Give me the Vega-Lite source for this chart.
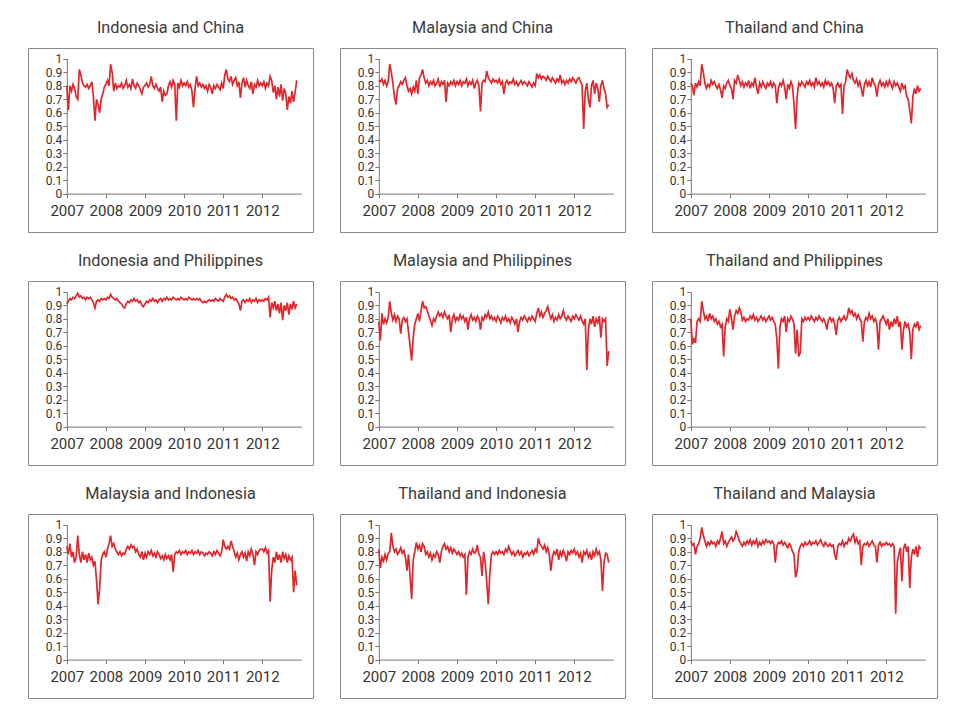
{
"$schema": "https://vega.github.io/schema/vega-lite/v6.json",
"padding": {"left": 27, "top": 19, "right": 5, "bottom": 5},
"background": "white",
"data": {"values": [
{"t":2007,"IC":0.80,"MC":0.84,"TC":0.82,"IP":0.91,"MP":0.78,"TP":0.80,"MI":0.84,"TI":0.82,"TM":0.88},
{"t":2007.04,"IC":0.62,"MC":0.83,"TC":0.80,"IP":0.93,"MP":0.64,"TP":0.61,"MI":0.78,"TI":0.68,"TM":0.85},
{"t":2007.08,"IC":0.80,"MC":0.85,"TC":0.73,"IP":0.95,"MP":0.84,"TP":0.65,"MI":0.86,"TI":0.76,"TM":0.86},
{"t":2007.12,"IC":0.76,"MC":0.81,"TC":0.82,"IP":0.94,"MP":0.76,"TP":0.62,"MI":0.76,"TI":0.73,"TM":0.78},
{"t":2007.16,"IC":0.81,"MC":0.84,"TC":0.79,"IP":0.96,"MP":0.80,"TP":0.78,"MI":0.80,"TI":0.78,"TM":0.84},
{"t":2007.20,"IC":0.78,"MC":0.80,"TC":0.83,"IP":0.95,"MP":0.77,"TP":0.80,"MI":0.72,"TI":0.74,"TM":0.86},
{"t":2007.24,"IC":0.72,"MC":0.83,"TC":0.80,"IP":0.97,"MP":0.81,"TP":0.78,"MI":0.76,"TI":0.79,"TM":0.90},
{"t":2007.28,"IC":0.70,"MC":0.96,"TC":0.96,"IP":0.99,"MP":0.93,"TP":0.93,"MI":0.92,"TI":0.80,"TM":0.98},
{"t":2007.32,"IC":0.92,"MC":0.90,"TC":0.90,"IP":0.96,"MP":0.84,"TP":0.86,"MI":0.78,"TI":0.94,"TM":0.92},
{"t":2007.36,"IC":0.88,"MC":0.82,"TC":0.82,"IP":0.97,"MP":0.79,"TP":0.80,"MI":0.72,"TI":0.84,"TM":0.88},
{"t":2007.40,"IC":0.82,"MC":0.72,"TC":0.78,"IP":0.95,"MP":0.83,"TP":0.82,"MI":0.80,"TI":0.80,"TM":0.84},
{"t":2007.44,"IC":0.80,"MC":0.66,"TC":0.81,"IP":0.96,"MP":0.78,"TP":0.78,"MI":0.74,"TI":0.82,"TM":0.87},
{"t":2007.48,"IC":0.79,"MC":0.78,"TC":0.79,"IP":0.94,"MP":0.82,"TP":0.84,"MI":0.78,"TI":0.78,"TM":0.85},
{"t":2007.52,"IC":0.81,"MC":0.80,"TC":0.84,"IP":0.96,"MP":0.80,"TP":0.80,"MI":0.72,"TI":0.80,"TM":0.88},
{"t":2007.56,"IC":0.78,"MC":0.83,"TC":0.81,"IP":0.95,"MP":0.69,"TP":0.82,"MI":0.79,"TI":0.83,"TM":0.86},
{"t":2007.60,"IC":0.80,"MC":0.81,"TC":0.83,"IP":0.96,"MP":0.79,"TP":0.78,"MI":0.74,"TI":0.79,"TM":0.87},
{"t":2007.64,"IC":0.83,"MC":0.84,"TC":0.80,"IP":0.94,"MP":0.81,"TP":0.80,"MI":0.76,"TI":0.81,"TM":0.84},
{"t":2007.68,"IC":0.72,"MC":0.86,"TC":0.78,"IP":0.92,"MP":0.78,"TP":0.76,"MI":0.70,"TI":0.76,"TM":0.88},
{"t":2007.72,"IC":0.54,"MC":0.80,"TC":0.81,"IP":0.88,"MP":0.80,"TP":0.78,"MI":0.73,"TI":0.66,"TM":0.86},
{"t":2007.76,"IC":0.70,"MC":0.76,"TC":0.77,"IP":0.93,"MP":0.70,"TP":0.74,"MI":0.59,"TI":0.78,"TM":0.90},
{"t":2007.80,"IC":0.66,"MC":0.78,"TC":0.71,"IP":0.94,"MP":0.60,"TP":0.76,"MI":0.41,"TI":0.62,"TM":0.95},
{"t":2007.84,"IC":0.60,"MC":0.74,"TC":0.80,"IP":0.93,"MP":0.49,"TP":0.52,"MI":0.53,"TI":0.45,"TM":0.86},
{"t":2007.88,"IC":0.70,"MC":0.79,"TC":0.78,"IP":0.95,"MP":0.66,"TP":0.74,"MI":0.74,"TI":0.74,"TM":0.88},
{"t":2007.92,"IC":0.74,"MC":0.76,"TC":0.82,"IP":0.94,"MP":0.76,"TP":0.80,"MI":0.78,"TI":0.80,"TM":0.84},
{"t":2007.96,"IC":0.79,"MC":0.84,"TC":0.84,"IP":0.95,"MP":0.80,"TP":0.78,"MI":0.80,"TI":0.87,"TM":0.87},
{"t":2008,"IC":0.81,"MC":0.74,"TC":0.80,"IP":0.94,"MP":0.84,"TP":0.87,"MI":0.76,"TI":0.82,"TM":0.89},
{"t":2008.04,"IC":0.84,"MC":0.86,"TC":0.78,"IP":0.96,"MP":0.78,"TP":0.80,"MI":0.82,"TI":0.85,"TM":0.91},
{"t":2008.08,"IC":0.80,"MC":0.88,"TC":0.70,"IP":0.95,"MP":0.86,"TP":0.72,"MI":0.86,"TI":0.80,"TM":0.88},
{"t":2008.12,"IC":0.96,"MC":0.92,"TC":0.84,"IP":0.98,"MP":0.93,"TP":0.82,"MI":0.92,"TI":0.86,"TM":0.90},
{"t":2008.16,"IC":0.90,"MC":0.86,"TC":0.82,"IP":0.96,"MP":0.88,"TP":0.86,"MI":0.84,"TI":0.84,"TM":0.95},
{"t":2008.20,"IC":0.76,"MC":0.82,"TC":0.88,"IP":0.95,"MP":0.89,"TP":0.84,"MI":0.86,"TI":0.78,"TM":0.92},
{"t":2008.24,"IC":0.82,"MC":0.84,"TC":0.84,"IP":0.94,"MP":0.86,"TP":0.88,"MI":0.82,"TI":0.80,"TM":0.88},
{"t":2008.28,"IC":0.78,"MC":0.80,"TC":0.80,"IP":0.95,"MP":0.82,"TP":0.85,"MI":0.80,"TI":0.76,"TM":0.86},
{"t":2008.32,"IC":0.80,"MC":0.83,"TC":0.83,"IP":0.93,"MP":0.79,"TP":0.79,"MI":0.78,"TI":0.79,"TM":0.84},
{"t":2008.36,"IC":0.79,"MC":0.81,"TC":0.79,"IP":0.92,"MP":0.75,"TP":0.81,"MI":0.80,"TI":0.74,"TM":0.87},
{"t":2008.40,"IC":0.82,"MC":0.84,"TC":0.82,"IP":0.91,"MP":0.80,"TP":0.78,"MI":0.77,"TI":0.78,"TM":0.85},
{"t":2008.44,"IC":0.78,"MC":0.80,"TC":0.80,"IP":0.89,"MP":0.78,"TP":0.80,"MI":0.79,"TI":0.76,"TM":0.88},
{"t":2008.48,"IC":0.80,"MC":0.82,"TC":0.84,"IP":0.88,"MP":0.82,"TP":0.79,"MI":0.78,"TI":0.80,"TM":0.86},
{"t":2008.52,"IC":0.84,"MC":0.85,"TC":0.78,"IP":0.91,"MP":0.85,"TP":0.82,"MI":0.82,"TI":0.78,"TM":0.89},
{"t":2008.56,"IC":0.79,"MC":0.79,"TC":0.82,"IP":0.93,"MP":0.82,"TP":0.80,"MI":0.84,"TI":0.72,"TM":0.85},
{"t":2008.60,"IC":0.81,"MC":0.83,"TC":0.80,"IP":0.92,"MP":0.84,"TP":0.83,"MI":0.82,"TI":0.80,"TM":0.88},
{"t":2008.64,"IC":0.78,"MC":0.81,"TC":0.86,"IP":0.94,"MP":0.81,"TP":0.79,"MI":0.85,"TI":0.84,"TM":0.86},
{"t":2008.68,"IC":0.85,"MC":0.84,"TC":0.79,"IP":0.93,"MP":0.85,"TP":0.81,"MI":0.83,"TI":0.86,"TM":0.89},
{"t":2008.72,"IC":0.80,"MC":0.68,"TC":0.74,"IP":0.95,"MP":0.82,"TP":0.78,"MI":0.84,"TI":0.82,"TM":0.84},
{"t":2008.76,"IC":0.78,"MC":0.82,"TC":0.82,"IP":0.93,"MP":0.80,"TP":0.80,"MI":0.80,"TI":0.84,"TM":0.87},
{"t":2008.80,"IC":0.82,"MC":0.80,"TC":0.79,"IP":0.94,"MP":0.83,"TP":0.82,"MI":0.82,"TI":0.80,"TM":0.85},
{"t":2008.84,"IC":0.80,"MC":0.83,"TC":0.83,"IP":0.92,"MP":0.70,"TP":0.79,"MI":0.78,"TI":0.83,"TM":0.88},
{"t":2008.88,"IC":0.77,"MC":0.81,"TC":0.80,"IP":0.93,"MP":0.80,"TP":0.81,"MI":0.76,"TI":0.79,"TM":0.86},
{"t":2008.92,"IC":0.74,"MC":0.84,"TC":0.78,"IP":0.90,"MP":0.83,"TP":0.78,"MI":0.80,"TI":0.82,"TM":0.89},
{"t":2008.96,"IC":0.79,"MC":0.80,"TC":0.82,"IP":0.89,"MP":0.78,"TP":0.80,"MI":0.74,"TI":0.80,"TM":0.87},
{"t":2009,"IC":0.80,"MC":0.83,"TC":0.80,"IP":0.91,"MP":0.81,"TP":0.82,"MI":0.79,"TI":0.78,"TM":0.88},
{"t":2009.04,"IC":0.82,"MC":0.81,"TC":0.83,"IP":0.93,"MP":0.79,"TP":0.79,"MI":0.76,"TI":0.80,"TM":0.86},
{"t":2009.08,"IC":0.79,"MC":0.84,"TC":0.79,"IP":0.92,"MP":0.83,"TP":0.81,"MI":0.80,"TI":0.77,"TM":0.88},
{"t":2009.12,"IC":0.81,"MC":0.80,"TC":0.82,"IP":0.94,"MP":0.80,"TP":0.78,"MI":0.78,"TI":0.79,"TM":0.86},
{"t":2009.16,"IC":0.87,"MC":0.83,"TC":0.80,"IP":0.93,"MP":0.82,"TP":0.76,"MI":0.81,"TI":0.76,"TM":0.72},
{"t":2009.20,"IC":0.80,"MC":0.82,"TC":0.67,"IP":0.95,"MP":0.78,"TP":0.65,"MI":0.77,"TI":0.78,"TM":0.84},
{"t":2009.24,"IC":0.78,"MC":0.85,"TC":0.78,"IP":0.93,"MP":0.81,"TP":0.43,"MI":0.79,"TI":0.48,"TM":0.87},
{"t":2009.28,"IC":0.81,"MC":0.80,"TC":0.82,"IP":0.94,"MP":0.72,"TP":0.74,"MI":0.76,"TI":0.76,"TM":0.86},
{"t":2009.32,"IC":0.78,"MC":0.83,"TC":0.80,"IP":0.92,"MP":0.80,"TP":0.80,"MI":0.80,"TI":0.80,"TM":0.88},
{"t":2009.36,"IC":0.76,"MC":0.81,"TC":0.84,"IP":0.94,"MP":0.83,"TP":0.78,"MI":0.78,"TI":0.78,"TM":0.85},
{"t":2009.40,"IC":0.79,"MC":0.84,"TC":0.79,"IP":0.95,"MP":0.79,"TP":0.82,"MI":0.75,"TI":0.82,"TM":0.87},
{"t":2009.44,"IC":0.68,"MC":0.78,"TC":0.70,"IP":0.93,"MP":0.81,"TP":0.70,"MI":0.77,"TI":0.79,"TM":0.85},
{"t":2009.48,"IC":0.76,"MC":0.82,"TC":0.81,"IP":0.95,"MP":0.78,"TP":0.80,"MI":0.74,"TI":0.80,"TM":0.83},
{"t":2009.52,"IC":0.73,"MC":0.84,"TC":0.78,"IP":0.94,"MP":0.82,"TP":0.78,"MI":0.78,"TI":0.85,"TM":0.86},
{"t":2009.56,"IC":0.74,"MC":0.80,"TC":0.83,"IP":0.96,"MP":0.80,"TP":0.82,"MI":0.75,"TI":0.78,"TM":0.84},
{"t":2009.60,"IC":0.80,"MC":0.61,"TC":0.80,"IP":0.94,"MP":0.72,"TP":0.80,"MI":0.77,"TI":0.76,"TM":0.80},
{"t":2009.64,"IC":0.83,"MC":0.82,"TC":0.66,"IP":0.95,"MP":0.81,"TP":0.76,"MI":0.74,"TI":0.62,"TM":0.78},
{"t":2009.68,"IC":0.79,"MC":0.84,"TC":0.48,"IP":0.94,"MP":0.79,"TP":0.54,"MI":0.78,"TI":0.80,"TM":0.61},
{"t":2009.72,"IC":0.84,"MC":0.83,"TC":0.72,"IP":0.96,"MP":0.83,"TP":0.72,"MI":0.65,"TI":0.72,"TM":0.66},
{"t":2009.76,"IC":0.81,"MC":0.91,"TC":0.82,"IP":0.95,"MP":0.81,"TP":0.52,"MI":0.78,"TI":0.58,"TM":0.80},
{"t":2009.80,"IC":0.54,"MC":0.86,"TC":0.80,"IP":0.94,"MP":0.85,"TP":0.55,"MI":0.80,"TI":0.41,"TM":0.84},
{"t":2009.84,"IC":0.82,"MC":0.84,"TC":0.83,"IP":0.95,"MP":0.80,"TP":0.80,"MI":0.79,"TI":0.64,"TM":0.86},
{"t":2009.88,"IC":0.79,"MC":0.82,"TC":0.81,"IP":0.94,"MP":0.82,"TP":0.78,"MI":0.81,"TI":0.78,"TM":0.84},
{"t":2009.92,"IC":0.84,"MC":0.85,"TC":0.79,"IP":0.96,"MP":0.79,"TP":0.81,"MI":0.78,"TI":0.80,"TM":0.87},
{"t":2009.96,"IC":0.80,"MC":0.83,"TC":0.83,"IP":0.95,"MP":0.81,"TP":0.79,"MI":0.80,"TI":0.78,"TM":0.85},
{"t":2010,"IC":0.82,"MC":0.84,"TC":0.81,"IP":0.94,"MP":0.78,"TP":0.81,"MI":0.79,"TI":0.80,"TM":0.86},
{"t":2010.04,"IC":0.80,"MC":0.82,"TC":0.84,"IP":0.95,"MP":0.82,"TP":0.79,"MI":0.81,"TI":0.78,"TM":0.88},
{"t":2010.08,"IC":0.83,"MC":0.85,"TC":0.80,"IP":0.94,"MP":0.80,"TP":0.82,"MI":0.78,"TI":0.81,"TM":0.85},
{"t":2010.12,"IC":0.79,"MC":0.81,"TC":0.82,"IP":0.96,"MP":0.77,"TP":0.80,"MI":0.80,"TI":0.79,"TM":0.87},
{"t":2010.16,"IC":0.81,"MC":0.83,"TC":0.79,"IP":0.95,"MP":0.81,"TP":0.78,"MI":0.79,"TI":0.80,"TM":0.86},
{"t":2010.20,"IC":0.76,"MC":0.74,"TC":0.86,"IP":0.94,"MP":0.79,"TP":0.81,"MI":0.81,"TI":0.78,"TM":0.88},
{"t":2010.24,"IC":0.64,"MC":0.82,"TC":0.81,"IP":0.95,"MP":0.82,"TP":0.79,"MI":0.78,"TI":0.82,"TM":0.85},
{"t":2010.28,"IC":0.78,"MC":0.84,"TC":0.83,"IP":0.94,"MP":0.78,"TP":0.82,"MI":0.80,"TI":0.80,"TM":0.87},
{"t":2010.32,"IC":0.87,"MC":0.81,"TC":0.80,"IP":0.95,"MP":0.80,"TP":0.80,"MI":0.79,"TI":0.84,"TM":0.89},
{"t":2010.36,"IC":0.80,"MC":0.83,"TC":0.82,"IP":0.94,"MP":0.77,"TP":0.78,"MI":0.81,"TI":0.81,"TM":0.86},
{"t":2010.40,"IC":0.82,"MC":0.82,"TC":0.79,"IP":0.95,"MP":0.81,"TP":0.80,"MI":0.78,"TI":0.78,"TM":0.84},
{"t":2010.44,"IC":0.79,"MC":0.85,"TC":0.84,"IP":0.93,"MP":0.79,"TP":0.77,"MI":0.80,"TI":0.80,"TM":0.87},
{"t":2010.48,"IC":0.81,"MC":0.81,"TC":0.81,"IP":0.92,"MP":0.76,"TP":0.72,"MI":0.79,"TI":0.77,"TM":0.85},
{"t":2010.52,"IC":0.78,"MC":0.83,"TC":0.83,"IP":0.93,"MP":0.80,"TP":0.79,"MI":0.77,"TI":0.79,"TM":0.84},
{"t":2010.56,"IC":0.80,"MC":0.80,"TC":0.80,"IP":0.92,"MP":0.70,"TP":0.81,"MI":0.79,"TI":0.81,"TM":0.86},
{"t":2010.60,"IC":0.76,"MC":0.82,"TC":0.82,"IP":0.93,"MP":0.78,"TP":0.78,"MI":0.78,"TI":0.78,"TM":0.84},
{"t":2010.64,"IC":0.81,"MC":0.84,"TC":0.78,"IP":0.94,"MP":0.81,"TP":0.80,"MI":0.80,"TI":0.80,"TM":0.85},
{"t":2010.68,"IC":0.79,"MC":0.81,"TC":0.67,"IP":0.93,"MP":0.79,"TP":0.76,"MI":0.79,"TI":0.76,"TM":0.78},
{"t":2010.72,"IC":0.74,"MC":0.83,"TC":0.80,"IP":0.94,"MP":0.82,"TP":0.68,"MI":0.77,"TI":0.79,"TM":0.74},
{"t":2010.76,"IC":0.80,"MC":0.82,"TC":0.82,"IP":0.93,"MP":0.80,"TP":0.79,"MI":0.80,"TI":0.78,"TM":0.84},
{"t":2010.80,"IC":0.78,"MC":0.80,"TC":0.79,"IP":0.95,"MP":0.78,"TP":0.81,"MI":0.78,"TI":0.80,"TM":0.86},
{"t":2010.84,"IC":0.81,"MC":0.83,"TC":0.81,"IP":0.94,"MP":0.81,"TP":0.78,"MI":0.81,"TI":0.77,"TM":0.85},
{"t":2010.88,"IC":0.79,"MC":0.81,"TC":0.59,"IP":0.93,"MP":0.79,"TP":0.80,"MI":0.79,"TI":0.79,"TM":0.88},
{"t":2010.92,"IC":0.77,"MC":0.79,"TC":0.80,"IP":0.95,"MP":0.82,"TP":0.82,"MI":0.77,"TI":0.81,"TM":0.84},
{"t":2010.96,"IC":0.82,"MC":0.82,"TC":0.83,"IP":0.94,"MP":0.80,"TP":0.79,"MI":0.80,"TI":0.78,"TM":0.87},
{"t":2011,"IC":0.78,"MC":0.80,"TC":0.92,"IP":0.93,"MP":0.78,"TP":0.81,"MI":0.89,"TI":0.82,"TM":0.86},
{"t":2011.04,"IC":0.88,"MC":0.89,"TC":0.88,"IP":0.96,"MP":0.84,"TP":0.88,"MI":0.84,"TI":0.80,"TM":0.90},
{"t":2011.08,"IC":0.92,"MC":0.86,"TC":0.86,"IP":0.98,"MP":0.88,"TP":0.84,"MI":0.82,"TI":0.90,"TM":0.88},
{"t":2011.12,"IC":0.85,"MC":0.88,"TC":0.89,"IP":0.96,"MP":0.82,"TP":0.86,"MI":0.84,"TI":0.86,"TM":0.91},
{"t":2011.16,"IC":0.83,"MC":0.85,"TC":0.84,"IP":0.97,"MP":0.85,"TP":0.82,"MI":0.82,"TI":0.84,"TM":0.93},
{"t":2011.20,"IC":0.87,"MC":0.87,"TC":0.82,"IP":0.95,"MP":0.81,"TP":0.84,"MI":0.88,"TI":0.82,"TM":0.87},
{"t":2011.24,"IC":0.81,"MC":0.86,"TC":0.85,"IP":0.96,"MP":0.84,"TP":0.80,"MI":0.84,"TI":0.85,"TM":0.90},
{"t":2011.28,"IC":0.84,"MC":0.84,"TC":0.80,"IP":0.94,"MP":0.86,"TP":0.83,"MI":0.80,"TI":0.80,"TM":0.86},
{"t":2011.32,"IC":0.86,"MC":0.87,"TC":0.83,"IP":0.95,"MP":0.89,"TP":0.80,"MI":0.76,"TI":0.83,"TM":0.88},
{"t":2011.36,"IC":0.80,"MC":0.85,"TC":0.78,"IP":0.93,"MP":0.84,"TP":0.78,"MI":0.79,"TI":0.78,"TM":0.70},
{"t":2011.40,"IC":0.83,"MC":0.83,"TC":0.72,"IP":0.91,"MP":0.80,"TP":0.63,"MI":0.74,"TI":0.66,"TM":0.84},
{"t":2011.44,"IC":0.71,"MC":0.86,"TC":0.81,"IP":0.86,"MP":0.83,"TP":0.78,"MI":0.78,"TI":0.76,"TM":0.86},
{"t":2011.48,"IC":0.82,"MC":0.84,"TC":0.84,"IP":0.93,"MP":0.78,"TP":0.81,"MI":0.80,"TI":0.80,"TM":0.85},
{"t":2011.52,"IC":0.86,"MC":0.82,"TC":0.80,"IP":0.94,"MP":0.81,"TP":0.79,"MI":0.76,"TI":0.78,"TM":0.87},
{"t":2011.56,"IC":0.79,"MC":0.85,"TC":0.83,"IP":0.92,"MP":0.79,"TP":0.84,"MI":0.79,"TI":0.82,"TM":0.84},
{"t":2011.60,"IC":0.84,"MC":0.83,"TC":0.79,"IP":0.94,"MP":0.83,"TP":0.80,"MI":0.73,"TI":0.74,"TM":0.86},
{"t":2011.64,"IC":0.80,"MC":0.88,"TC":0.86,"IP":0.93,"MP":0.80,"TP":0.82,"MI":0.80,"TI":0.80,"TM":0.88},
{"t":2011.68,"IC":0.78,"MC":0.82,"TC":0.82,"IP":0.95,"MP":0.82,"TP":0.78,"MI":0.77,"TI":0.77,"TM":0.85},
{"t":2011.72,"IC":0.83,"MC":0.84,"TC":0.80,"IP":0.92,"MP":0.86,"TP":0.80,"MI":0.82,"TI":0.81,"TM":0.84},
{"t":2011.76,"IC":0.74,"MC":0.81,"TC":0.72,"IP":0.94,"MP":0.81,"TP":0.76,"MI":0.78,"TI":0.78,"TM":0.72},
{"t":2011.80,"IC":0.81,"MC":0.84,"TC":0.81,"IP":0.93,"MP":0.79,"TP":0.57,"MI":0.70,"TI":0.73,"TM":0.85},
{"t":2011.84,"IC":0.79,"MC":0.82,"TC":0.84,"IP":0.95,"MP":0.82,"TP":0.78,"MI":0.80,"TI":0.80,"TM":0.87},
{"t":2011.88,"IC":0.84,"MC":0.85,"TC":0.80,"IP":0.92,"MP":0.80,"TP":0.80,"MI":0.78,"TI":0.78,"TM":0.84},
{"t":2011.92,"IC":0.80,"MC":0.83,"TC":0.82,"IP":0.94,"MP":0.78,"TP":0.82,"MI":0.81,"TI":0.81,"TM":0.86},
{"t":2011.96,"IC":0.82,"MC":0.86,"TC":0.79,"IP":0.93,"MP":0.82,"TP":0.79,"MI":0.82,"TI":0.79,"TM":0.85},
{"t":2012,"IC":0.80,"MC":0.84,"TC":0.83,"IP":0.94,"MP":0.80,"TP":0.76,"MI":0.82,"TI":0.82,"TM":0.87},
{"t":2012.04,"IC":0.83,"MC":0.82,"TC":0.80,"IP":0.93,"MP":0.83,"TP":0.80,"MI":0.80,"TI":0.78,"TM":0.85},
{"t":2012.08,"IC":0.78,"MC":0.85,"TC":0.84,"IP":0.95,"MP":0.81,"TP":0.72,"MI":0.83,"TI":0.80,"TM":0.86},
{"t":2012.12,"IC":0.82,"MC":0.86,"TC":0.81,"IP":0.94,"MP":0.79,"TP":0.78,"MI":0.79,"TI":0.76,"TM":0.84},
{"t":2012.16,"IC":0.80,"MC":0.83,"TC":0.78,"IP":0.96,"MP":0.82,"TP":0.74,"MI":0.81,"TI":0.79,"TM":0.86},
{"t":2012.20,"IC":0.87,"MC":0.80,"TC":0.83,"IP":0.81,"MP":0.78,"TP":0.80,"MI":0.43,"TI":0.72,"TM":0.84},
{"t":2012.24,"IC":0.84,"MC":0.48,"TC":0.80,"IP":0.92,"MP":0.76,"TP":0.76,"MI":0.66,"TI":0.80,"TM":0.34},
{"t":2012.28,"IC":0.75,"MC":0.76,"TC":0.82,"IP":0.88,"MP":0.80,"TP":0.82,"MI":0.76,"TI":0.78,"TM":0.72},
{"t":2012.32,"IC":0.80,"MC":0.82,"TC":0.79,"IP":0.93,"MP":0.42,"TP":0.74,"MI":0.72,"TI":0.81,"TM":0.78},
{"t":2012.36,"IC":0.70,"MC":0.70,"TC":0.76,"IP":0.86,"MP":0.72,"TP":0.78,"MI":0.80,"TI":0.76,"TM":0.83},
{"t":2012.40,"IC":0.79,"MC":0.64,"TC":0.82,"IP":0.91,"MP":0.80,"TP":0.57,"MI":0.74,"TI":0.79,"TM":0.58},
{"t":2012.44,"IC":0.72,"MC":0.80,"TC":0.78,"IP":0.84,"MP":0.76,"TP":0.72,"MI":0.78,"TI":0.74,"TM":0.82},
{"t":2012.48,"IC":0.81,"MC":0.84,"TC":0.80,"IP":0.92,"MP":0.82,"TP":0.78,"MI":0.72,"TI":0.80,"TM":0.86},
{"t":2012.52,"IC":0.69,"MC":0.74,"TC":0.72,"IP":0.79,"MP":0.74,"TP":0.74,"MI":0.80,"TI":0.77,"TM":0.80},
{"t":2012.56,"IC":0.78,"MC":0.82,"TC":0.70,"IP":0.90,"MP":0.80,"TP":0.76,"MI":0.75,"TI":0.82,"TM":0.84},
{"t":2012.60,"IC":0.74,"MC":0.78,"TC":0.62,"IP":0.86,"MP":0.77,"TP":0.70,"MI":0.78,"TI":0.78,"TM":0.53},
{"t":2012.64,"IC":0.62,"MC":0.68,"TC":0.52,"IP":0.92,"MP":0.82,"TP":0.50,"MI":0.72,"TI":0.80,"TM":0.76},
{"t":2012.68,"IC":0.72,"MC":0.80,"TC":0.72,"IP":0.83,"MP":0.66,"TP":0.72,"MI":0.77,"TI":0.74,"TM":0.82},
{"t":2012.72,"IC":0.67,"MC":0.84,"TC":0.78,"IP":0.91,"MP":0.80,"TP":0.76,"MI":0.74,"TI":0.51,"TM":0.78},
{"t":2012.76,"IC":0.76,"MC":0.78,"TC":0.74,"IP":0.87,"MP":0.78,"TP":0.74,"MI":0.76,"TI":0.72,"TM":0.84},
{"t":2012.80,"IC":0.68,"MC":0.74,"TC":0.80,"IP":0.93,"MP":0.80,"TP":0.78,"MI":0.50,"TI":0.79,"TM":0.76},
{"t":2012.84,"IC":0.75,"MC":0.64,"TC":0.76,"IP":0.88,"MP":0.45,"TP":0.72,"MI":0.66,"TI":0.78,"TM":0.84},
{"t":2012.88,"IC":0.84,"MC":0.66,"TC":0.78,"IP":0.91,"MP":0.56,"TP":0.75,"MI":0.55,"TI":0.72,"TM":0.82}
]},
"transform": [{"fold": ["IC","MC","TC","IP","MP","TP","MI","TI","TM"], "as": ["pair","v"]}],
"facet": {
  "field": "pair",
  "sort": ["IC","MC","TC","IP","MP","TP","MI","TI","TM"],
  "title": null,
  "header": {
    "labelExpr": "datum.value == 'IC' ? 'Indonesia and China' : datum.value == 'MC' ? 'Malaysia and China' : datum.value == 'TC' ? 'Thailand and China' : datum.value == 'IP' ? 'Indonesia and Philippines' : datum.value == 'MP' ? 'Malaysia and Philippines' : datum.value == 'TP' ? 'Thailand and Philippines' : datum.value == 'MI' ? 'Malaysia and Indonesia' : datum.value == 'TI' ? 'Thailand and Indonesia' : 'Thailand and Malaysia'",
    "labelFont": "Roboto",
    "labelFontSize": 16.3,
    "labelColor": "#3a3a3a",
    "labelPadding": 12
  }
},
"columns": 3,
"spacing": {"row": 19, "column": 25},
"spec": {
  "width": 285,
  "height": 184,
  "mark": {"type": "line", "color": "#e2262b", "strokeWidth": 1.7},
  "encoding": {
    "x": {"field": "t", "type": "quantitative",
      "scale": {"domain": [2007, 2013], "range": [38.8, 273.4], "nice": false, "zero": false},
      "axis": {"values": [2007, 2008, 2009, 2010, 2011, 2012], "format": "d", "offset": -38.4, "domain": true, "domainColor": "#777777", "grid": false, "tickSize": 4, "tickColor": "#777777", "labelFont": "Roboto", "labelFontSize": 15, "labelColor": "#333333", "labelPadding": 6, "labelFlush": false, "labelOverlap": false, "title": null}},
    "y": {"field": "v", "type": "quantitative",
      "scale": {"domain": [0, 1], "range": [145.6, 10.8], "nice": false, "zero": false},
      "axis": {"values": [0, 0.1, 0.2, 0.3, 0.4, 0.5, 0.6, 0.7, 0.8, 0.9, 1], "format": "~g", "offset": -38.8, "domain": true, "domainColor": "#777777", "grid": false, "tickSize": 4, "tickColor": "#777777", "labelFont": "Roboto", "labelFontSize": 12, "labelColor": "#333333", "labelPadding": 1, "labelFlush": false, "labelOverlap": false, "labelBound": false, "title": null}}
  }
},
"resolve": {"axis": {"x": "independent", "y": "independent"}},
"config": {
  "view": {"stroke": "#8a8a8a", "strokeWidth": 1},
  "axis": {"grid": false, "labelOverlap": false, "labelFlush": false},
  "font": "Roboto"
}
}
